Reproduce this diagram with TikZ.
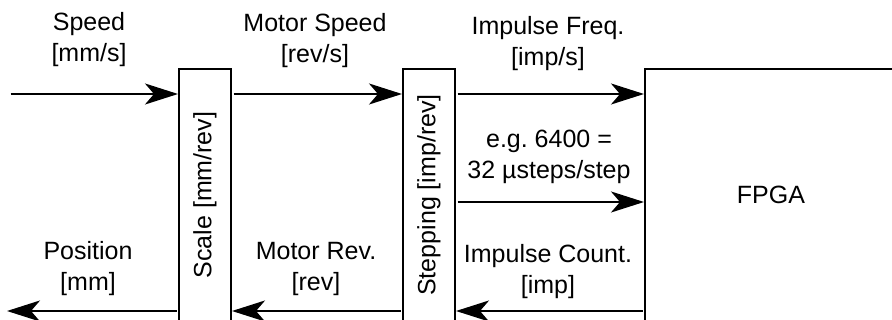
\documentclass[tikz,border=0pt]{standalone}
\usepackage{fontspec}
\setmainfont{Liberation Sans}
\usetikzlibrary{arrows.meta}
\frenchspacing

\begin{document}
\begin{tikzpicture}[x=1pt,y=-1pt,
  every node/.style={font=\fontsize{25}{31}\selectfont, inner sep=0pt},
  block/.style={draw, line width=2pt, fill=white, minimum width=52pt, minimum height=252pt},
  chip/.style={draw, line width=2pt, fill=white, minimum width=252pt, minimum height=252pt},
  lbl/.style={align=center},
  sig/.style={line width=2pt, -{Stealth[length=33pt, width=21pt, inset=9pt]}, shorten <=1.5pt}
]
\useasboundingbox (0,0) rectangle (892,320);
\clip (0,0) rectangle (892,320);

% processing blocks
\node[block] (scale) at (205,195) {\rotatebox{90}{Scale [mm/rev]}};
\node[block] (stp)   at (429,195) {\rotatebox{90}{Stepping [imp/rev]}};
\node[chip]  (fpga)  at (771,195) {FPGA};

% signal levels
\coordinate (rowA) at (0,94);
\coordinate (rowB) at (0,202);
\coordinate (rowC) at (0,311);
\coordinate (inS)  at (9,94);
\coordinate (outP) at (7,311);

% forward path
\draw[sig] (inS) -- (scale.west |- rowA);
\draw[sig] (scale.east |- rowA) -- (stp.west |- rowA);
\draw[sig] (stp.east |- rowA) -- (fpga.west |- rowA);
\draw[sig] (stp.east |- rowB) -- (fpga.west |- rowB);

% feedback path
\draw[sig] (fpga.west |- rowC) -- (stp.east |- rowC);
\draw[sig] (stp.west |- rowC) -- (scale.east |- rowC);
\draw[sig] (scale.west |- rowC) -- (outP);

% signal labels
\node[lbl] (lSpeed) at (89,40)  {Speed\\{}[mm/s]};
\node[lbl] (lMot)   at (315,41) {Motor Speed\\{}[rev/s]};
\node[lbl] (lFreq)  at (548,44) {Impulse Freq.\\{}[imp/s]};
\node[lbl] (lEg)    at (549,157) {e.g. 6400 =\\32 µsteps/step};
\node[lbl] (lCnt)   at (548,272) {Impulse Count.\\{}[imp]};
\node[lbl] (lRev)   at (316,269) {Motor Rev.\\{}[rev]};
\node[lbl] (lPos)   at (88,269) {Position\\{}[mm]};
\end{tikzpicture}
\end{document}
